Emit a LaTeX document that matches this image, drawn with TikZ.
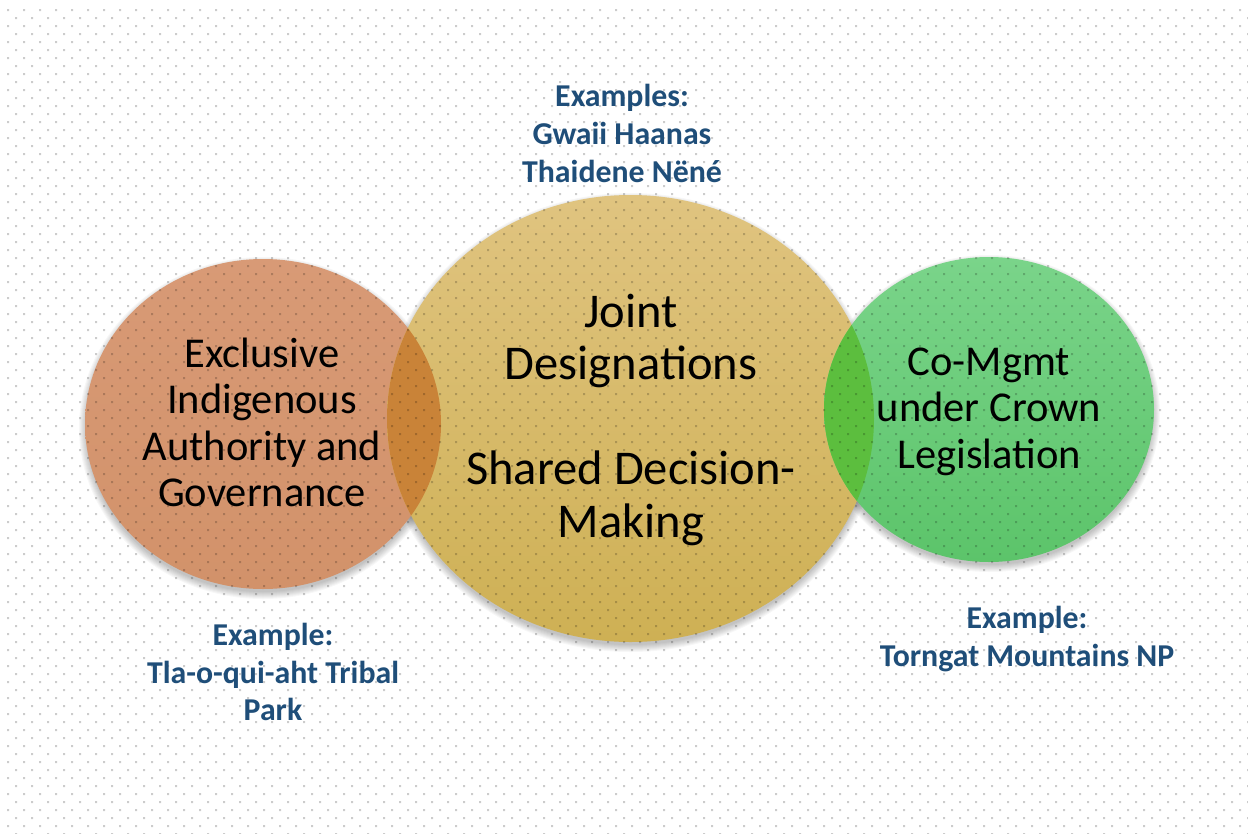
\documentclass[tikz,border=0pt]{standalone}
\usepackage{fontspec}
\setmainfont{Carlito}
\definecolor{blueT}{RGB}{31,78,121}
\definecolor{orTop}{RGB}{216,154,118}
\definecolor{orBot}{RGB}{210,146,106}
\definecolor{yeTop}{RGB}{224,196,128}
\definecolor{yeBot}{RGB}{206,176,84}
\definecolor{grTop}{RGB}{122,212,138}
\definecolor{grBot}{RGB}{92,196,106}
\definecolor{lensO}{RGB}{201,131,56}
\definecolor{lensG}{RGB}{92,190,62}
\tikzset{
  ctext/.style={align=center,text=black,font=\fontsize{42.5}{46.5}\selectfont,inner sep=0pt},
  mtext/.style={align=center,text=black,font=\fontsize{48.5}{52.5}\selectfont,inner sep=0pt},
  btext/.style={align=center,text=blueT,font=\bfseries\fontsize{31.8}{37.8}\selectfont,inner sep=0pt},
  dotc/.style={fill=black,opacity=0.2}
}
\begin{document}
\begin{tikzpicture}[x=1pt,y=-1pt]
\useasboundingbox (0,0) rectangle (1248,833);
\fill[white] (0,0) rectangle (1248,833);
% soft shadows
\foreach \cx/\cy/\rx/\ry in {263/424/178/165, 630.5/418.5/243.5/223.5, 989/409.5/165/152.5}{
  \foreach \i in {1,...,8}{
    \fill[black,opacity=0.03] (\cx,\cy+4) ellipse [x radius=\rx pt+\i pt-2pt, y radius=\ry pt+\i pt-2pt];
  }
}
% circles
\shade[top color=orTop,bottom color=orBot] (263,424) ellipse [x radius=178pt, y radius=165pt];
\shade[top color=yeTop,bottom color=yeBot] (630.5,418.5) ellipse [x radius=243.5pt, y radius=223.5pt];
\shade[top color=grTop,bottom color=grBot] (989,409.5) ellipse [x radius=165pt, y radius=152.5pt];
% lenses
\begin{scope}
  \clip (263,424) ellipse [x radius=178pt, y radius=165pt];
  \fill[lensO] (630.5,418.5) ellipse [x radius=243.5pt, y radius=223.5pt];
\end{scope}
\begin{scope}
  \clip (989,409.5) ellipse [x radius=165pt, y radius=152.5pt];
  \fill[lensG] (630.5,418.5) ellipse [x radius=243.5pt, y radius=223.5pt];
\end{scope}
% dot grid
\foreach \k in {0,...,103}{
  \pgfmathsetmacro\off{mod(\k,2)*8}
  \fill[dotc] \foreach \j in {0,...,77}{ (7+16*\j+\off, 9+8*\k) rectangle ++(2,2) };
}
% texts
\node[ctext] (exclusive) at (262,422.5) {Exclusive\\Indigenous\\Authority and\\Governance};
\node[mtext] (joint) at (631,419.5) {Joint\\Designations\\[52.5pt]Shared Decision-\\Making};
\node[ctext] (comgmt) at (989,411.5) {Co-Mgmt\\under Crown\\Legislation};
\node[btext] (extop) at (622,133.5) {Examples:\\Gwaii Haanas\\Thaidene Nëné};
\node[btext] (exleft) at (273,672) {Example:\\Tla-o-qui-aht Tribal\\Park};
\node[btext] (exright) at (1027,639) {Example:\\Torngat Mountains NP};
\end{tikzpicture}
\end{document}
